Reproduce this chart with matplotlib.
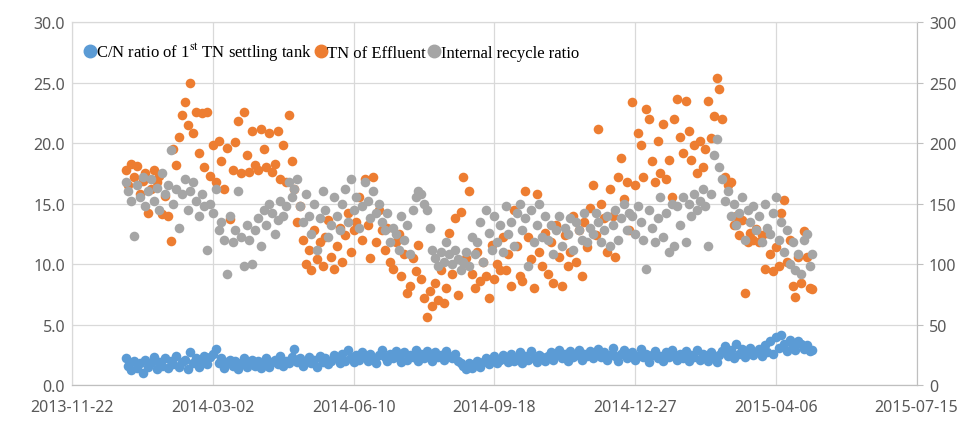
import matplotlib
matplotlib.use("Agg")
import matplotlib.pyplot as plt
import matplotlib.dates as mdates
from matplotlib.lines import Line2D
import pandas as pd

plt.rcParams['mathtext.fontset'] = 'stix'

# one sample every 2 days, from 2013-12-30
START = '2013-12-30'
STEP_DAYS = 2

cn_ratio = [
    2.2, 1.6, 1.2, 2.0, 1.4, 1.8, 1.0, 2.1, 1.5, 1.8, 2.3, 1.3, 1.9, 1.6, 2.2,
    1.4, 2.0, 1.7, 2.4, 1.5, 1.9, 2.1, 1.3, 2.7, 1.8, 2.2, 1.5, 2.0, 2.4, 1.7,
    2.3, 2.6, 3.0, 1.8, 2.2, 1.4, 1.9, 2.1, 1.6, 2.0, 1.3, 1.8, 2.2, 1.5, 1.9,
    2.1, 1.6, 2.0, 1.4, 1.8, 2.2, 1.5, 1.9, 2.1, 1.7, 2.4, 1.6, 2.0, 1.8, 2.3,
    3.0, 1.9, 2.2, 1.6, 2.0, 2.3, 1.8, 2.1, 1.5, 2.4, 1.9, 2.2, 1.7, 2.0, 2.5,
    2.2, 1.8, 2.6, 2.0, 2.9, 2.3, 1.9, 2.5, 2.1, 2.7, 2.4, 2.0, 2.6, 2.2, 1.8,
    2.5, 2.9, 2.3, 2.0, 2.6, 2.2, 2.8, 2.4, 1.9, 2.7, 2.1, 2.5, 2.3, 2.9, 2.0,
    2.6, 2.2, 2.8, 2.4, 2.0, 2.7, 2.3, 2.5, 2.1, 2.8, 2.4, 2.2, 2.6, 2.0, 1.8,
    1.6, 1.3, 1.8, 1.4, 1.7, 2.0, 1.5, 1.9, 2.2, 1.7, 2.0, 2.4, 1.8, 2.1, 2.5,
    2.2, 1.9, 2.6, 2.0, 2.3, 2.7, 1.8, 2.4, 2.1, 2.8, 2.2, 1.9, 2.5, 2.3, 2.0,
    2.4, 2.7, 2.1, 2.5, 2.9, 2.2, 2.6, 2.0, 2.8, 2.3, 2.5, 2.9, 2.1, 2.6, 2.4,
    2.8, 2.2, 2.6, 3.0, 2.3, 2.7, 2.1, 2.5, 3.1, 2.4, 2.0, 2.6, 2.9, 2.2, 2.5,
    2.7, 2.1, 2.4, 3.0, 2.3, 2.6, 1.9, 2.5, 2.8, 2.2, 2.4, 2.0, 2.7, 2.3, 2.9,
    2.4, 2.1, 2.6, 2.2, 2.8, 2.0, 2.5, 2.3, 2.9, 2.1, 2.6, 2.4, 2.0, 2.7, 2.2,
    1.9, 2.5, 2.8, 3.2, 2.4, 2.9, 2.2, 3.4, 2.6, 3.0, 2.3, 2.8, 3.1, 2.5, 2.7,
    3.0, 2.4, 3.3, 2.7, 3.6, 2.6, 4.0, 3.1, 4.1, 3.4, 2.8, 3.7, 3.2, 2.9, 3.6,
    3.4, 3.0, 3.3, 2.8, 2.9,
]

tn_effluent = [
    17.8, 16.5, 18.3, 17.2, 18.1, 15.8, 16.9, 17.5, 14.2, 16.2, 17.8, 16.8, 17.3, 14.1, 15.6,
    14.0, 11.9, 19.5, 18.2, 20.5, 22.3, 23.4, 21.5, 25.0, 20.8, 22.6, 19.2, 22.5, 18.0, 22.6,
    17.3, 19.8, 16.8, 20.2, 18.5, 16.2, 19.6, 13.7, 17.8, 20.1, 21.8, 17.5, 22.6, 19.0, 17.6,
    21.0, 18.2, 17.8, 21.2, 19.5, 18.0, 20.8, 17.6, 18.3, 21.0, 17.0, 19.8, 16.8, 22.3, 18.5,
    16.2, 13.5, 14.8, 12.0, 10.0, 11.2, 9.5, 12.8, 10.4, 11.8, 9.8, 12.2, 13.6, 10.6, 9.6,
    11.5, 13.0, 10.2, 12.4, 14.2, 11.0, 12.8, 13.5, 15.5, 12.0, 17.0, 13.2, 10.5, 17.2, 11.8,
    14.5, 12.8, 11.2, 13.0, 10.2, 9.6, 11.8, 12.5, 9.0, 10.8, 7.6, 8.2, 10.5, 9.4, 11.6,
    8.8, 7.2, 5.6, 7.8, 6.5, 8.4, 7.0, 9.5, 6.8, 8.0, 12.6, 9.2, 13.8, 7.4, 14.3,
    17.2, 10.5, 16.0, 9.2, 8.0, 11.0, 8.6, 10.2, 9.0, 7.2, 11.6, 8.8, 10.0, 9.5, 12.2,
    9.5, 10.8, 8.2, 14.5, 11.5, 9.0, 8.6, 16.0, 12.2, 10.4, 8.0, 15.8, 11.0, 9.8, 12.6,
    9.2, 11.8, 8.4, 13.2, 10.6, 8.2, 12.4, 9.8, 11.0, 14.0, 10.2, 12.8, 9.0, 13.5, 11.4,
    14.6, 16.5, 12.4, 21.2, 15.0, 13.8, 11.0, 16.2, 14.0, 10.6, 17.2, 18.8, 15.4, 16.8, 12.8,
    23.4, 16.5, 20.8, 19.8, 17.2, 22.8, 22.0, 18.5, 16.8, 20.2, 17.5, 21.6, 17.0, 18.6, 15.5,
    22.0, 23.6, 20.5, 19.2, 23.5, 21.0, 18.6, 19.8, 17.5, 20.2, 18.0, 19.5, 23.5, 20.4, 22.2,
    25.4, 24.5, 22.0, 17.2, 16.5, 16.8, 13.2, 14.0, 12.4, 13.6, 7.6, 11.8, 12.6, 12.0, 12.9,
    11.8, 12.4, 9.6, 12.6, 10.8, 9.4, 11.4, 9.8, 14.2, 15.3, 10.2, 12.0, 8.2, 7.3, 10.6,
    8.4, 12.7, 10.6, 8.0, 7.9,
]

recycle_ratio = [
    168, 160, 152, 123, 165, 155, 172, 148, 160, 170, 152, 163, 145, 175, 158,
    165, 194, 150, 162, 130, 158, 170, 145, 160, 168, 152, 140, 158, 148, 112,
    150, 142, 162, 128, 135, 120, 92, 140, 118, 128, 160, 122, 98, 132, 120,
    100, 128, 138, 115, 145, 132, 150, 142, 125, 136, 152, 140, 148, 168, 155,
    162, 170, 148, 135, 158, 140, 125, 150, 112, 138, 160, 145, 122, 132, 155,
    140, 128, 150, 162, 135, 170, 145, 155, 130, 148, 168, 152, 138, 160, 142,
    150, 135, 128, 142, 118, 130, 125, 112, 140, 120, 132, 108, 145, 155, 160,
    158, 150, 145, 130, 112, 105, 98, 110, 102, 118, 108, 100, 112, 104, 95,
    102, 110, 98, 122, 108, 118, 135, 102, 145, 126, 112, 140, 118, 132, 110,
    148, 125, 135, 115, 142, 150, 128, 138, 98, 145, 118, 132, 150, 122, 140,
    120, 132, 108, 128, 140, 115, 130, 125, 138, 112, 135, 128, 120, 142, 118,
    130, 125, 142, 135, 118, 128, 140, 115, 132, 145, 120, 138, 150, 128, 142,
    140, 125, 148, 135, 120, 96, 145, 130, 118, 138, 155, 122, 142, 110, 150,
    115, 148, 132, 155, 118, 150, 140, 158, 145, 152, 162, 148, 115, 158, 190,
    203, 180, 170, 152, 160, 140, 150, 132, 142, 155, 120, 145, 135, 148, 128,
    140, 118, 150, 130, 125, 142, 155, 120, 135, 110, 128, 100, 118, 95, 108,
    92, 120, 125, 98, 108,
]

dates = pd.date_range(START, periods=len(tn_effluent), freq=f'{STEP_DAYS}D')

c_blue = '#5B9BD5'
c_orange = '#ED7D31'
c_gray = '#A5A5A5'
txt_color = '#595959'
grid_color = '#D9D9D9'

fig = plt.figure(figsize=(9.75, 4.27), dpi=100)
ax = fig.add_axes([0.074, 0.096, 0.866, 0.85])
ax2 = ax.twinx()

ax.scatter(dates, cn_ratio, s=48, color=c_blue, linewidths=0, zorder=3)
ax.scatter(dates, tn_effluent, s=48, color=c_orange, linewidths=0, zorder=3)
ax2.scatter(dates, recycle_ratio, s=48, color=c_gray, linewidths=0, zorder=3)

x0 = pd.Timestamp('2013-11-22')
x1 = pd.Timestamp('2015-07-15')
ax.set_xlim(x0, x1)
ax.set_xticks(pd.date_range(x0, x1, freq='100D'))
ax.xaxis.set_major_formatter(mdates.DateFormatter('%Y-%m-%d'))

ax.set_ylim(0, 30)
ax.set_yticks(range(0, 31, 5))
ax.yaxis.set_major_formatter(plt.FuncFormatter(lambda v, p: f'{v:.1f}'))
ax2.set_ylim(0, 300)
ax2.set_yticks(range(0, 301, 50))

ax.grid(True, color=grid_color, linewidth=0.9, zorder=0)
ax.set_axisbelow(True)

for a in (ax, ax2):
    a.tick_params(labelsize=11.5, labelcolor=txt_color, length=0, pad=5)
    for s in a.spines.values():
        s.set_color(grid_color)
ax2.tick_params(axis='y', length=4, color='#BFBFBF', direction='out', pad=5)
ax.spines['bottom'].set_color('#BFBFBF')
ax2.spines['bottom'].set_color('#BFBFBF')
ax2.spines['right'].set_color('#BFBFBF')
ax.tick_params(axis='x', pad=10)

for lab in ax.get_xticklabels() + ax.get_yticklabels() + ax2.get_yticklabels():
    lab.set_fontfamily('Noto Sans')

handles = [Line2D([], [], marker='o', linestyle='', color=c, markersize=9)
           for c in (c_blue, c_orange, c_gray)]
labels = [r'C/N ratio of 1$^{\mathrm{st}}$ TN settling tank', 'TN of Effluent', 'Internal recycle ratio']
ax2.legend(handles, labels, loc='upper left', bbox_to_anchor=(-0.003, 0.99), ncol=3,
           frameon=False, handlelength=0.6, handletextpad=0.1, columnspacing=0.2,
           prop={'family': 'Liberation Serif', 'size': 12})

fig.savefig('out.png', dpi=100)
